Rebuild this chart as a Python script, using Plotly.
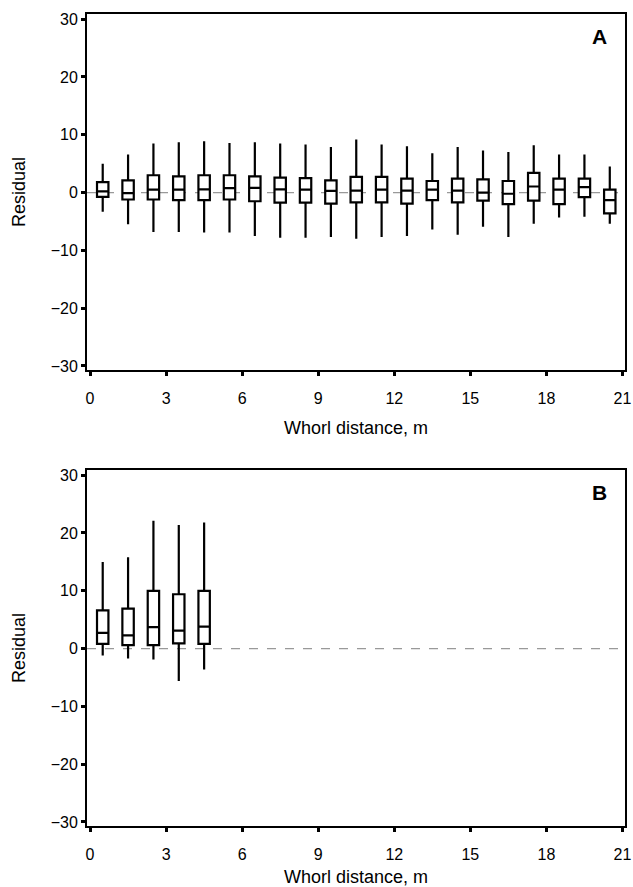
import plotly.graph_objects as go
from plotly.subplots import make_subplots

# Panel A data (whorl distance bins, m)
x_a = [0.5, 1.5, 2.5, 3.5, 4.5, 5.5, 6.5, 7.5, 8.5, 9.5, 10.5,
       11.5, 12.5, 13.5, 14.5, 15.5, 16.5, 17.5, 18.5, 19.5, 20.5]
low_a = [-3.3, -5.5, -6.8, -6.8, -6.9, -6.9, -7.5, -7.8, -7.8, -7.7, -8.0,
         -7.7, -7.5, -6.4, -7.3, -5.9, -7.7, -5.4, -4.3, -4.2, -5.4]
q1_a = [-0.75, -1.2, -1.2, -1.3, -1.3, -1.2, -1.5, -1.75, -1.75, -1.9, -1.7,
        -1.7, -1.9, -1.3, -1.7, -1.4, -2.0, -1.4, -2.0, -0.8, -3.6]
med_a = [0.2, -0.1, 0.5, 0.5, 0.55, 0.76, 0.8, 0.55, 0.5, 0.3, 0.35,
         0.5, 0.35, 0.5, 0.35, 0.0, -0.2, 1.05, 0.5, 0.93, -1.3]
q3_a = [1.8, 2.1, 3.0, 2.8, 3.0, 3.0, 2.8, 2.6, 2.5, 2.1, 2.7,
        2.7, 2.4, 2.0, 2.4, 2.3, 2.0, 3.4, 2.4, 2.4, 0.5]
high_a = [5.0, 6.6, 8.5, 8.7, 8.9, 8.6, 8.7, 8.5, 8.3, 7.9, 9.2,
          8.3, 8.0, 6.8, 7.9, 7.3, 7.0, 8.2, 6.6, 6.6, 4.5]

# Panel B data
x_b = [0.5, 1.5, 2.5, 3.5, 4.5]
low_b = [-1.2, -1.7, -1.9, -5.6, -3.6]
q1_b = [0.8, 0.6, 0.6, 0.9, 0.8]
med_b = [2.7, 2.3, 3.7, 3.1, 3.8]
q3_b = [6.6, 6.9, 10.0, 9.4, 10.0]
high_b = [15.0, 15.8, 22.1, 21.4, 21.8]

x_ticks = [0, 3, 6, 9, 12, 15, 18, 21]
y_ticks = [-30, -20, -10, 0, 10, 20, 30]
panel_labels = ["A", "B"]

FONT = "Liberation Sans, Arial, Helvetica, sans-serif"

fig = make_subplots(rows=2, cols=1, vertical_spacing=100 / 812)

def add_boxes(row, xs, lo, q1, med, q3, hi):
    fig.add_trace(go.Box(
        x=xs, lowerfence=lo, q1=q1, median=med, q3=q3, upperfence=hi,
        width=0.45, whiskerwidth=0, fillcolor="white",
        line=dict(color="black", width=2.2), boxpoints=False,
        hoverinfo="skip", showlegend=False), row=row, col=1)

add_boxes(1, x_a, low_a, q1_a, med_a, q3_a, high_a)
add_boxes(2, x_b, low_b, q1_b, med_b, q3_b, high_b)

for r, lab in zip([1, 2], panel_labels):
    fig.add_hline(y=0, line=dict(color="#999999", width=1.2, dash="dash"),
                  layer="below", row=r, col=1)
    xa = "x" if r == 1 else "x2"
    ya = "y" if r == 1 else "y2"
    fig.add_annotation(text="<b>" + lab + "</b>", xref=xa + " domain", yref=ya + " domain",
                       x=0.9535, y=0.937, xanchor="center", yanchor="middle",
                       showarrow=False,
                       font=dict(family=FONT, size=21, color="black"))

axis_common = dict(showline=True, linecolor="black", linewidth=2, mirror=True,
                   ticks="outside", ticklen=4, tickwidth=3, tickcolor="black",
                   showgrid=False, zeroline=False, automargin=False,
                   tickfont=dict(family=FONT, size=16, color="black"))

for r in [1, 2]:
    fig.update_xaxes(range=[-0.12, 21.1], tickvals=x_ticks, ticklabelstandoff=9,
                     title=dict(text="Whorl distance, m", standoff=15,
                                font=dict(family=FONT, size=18, color="black")),
                     row=r, col=1, **axis_common)
    fig.update_yaxes(range=[-30.7, 30.9], tickvals=y_ticks,
                     title=dict(text="Residual", standoff=20,
                                font=dict(family=FONT, size=18, color="black")),
                     row=r, col=1, **axis_common)

fig.update_layout(width=633, height=887,
                  margin=dict(l=87, r=8, t=14, b=61),
                  paper_bgcolor="white", plot_bgcolor="white",
                  showlegend=False)

fig.write_html("out.html", config={"displayModeBar": False},
               post_script="document.body.style.margin='0';document.body.style.overflow='hidden';")
